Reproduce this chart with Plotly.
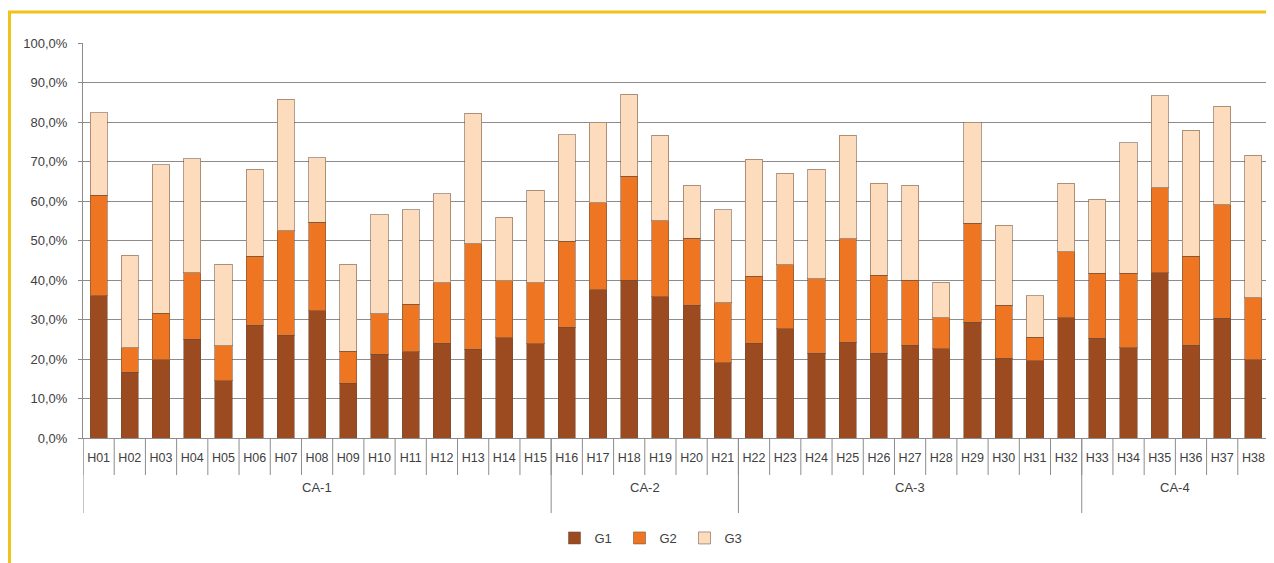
import plotly.graph_objects as go

categories = [f"H{i:02d}" for i in range(1, 39)]
groups = ["CA-1", "CA-2", "CA-3", "CA-4"]
group_sizes = [15, 6, 11, 6]

g1 = [36.0, 16.6, 19.8, 25.0, 14.5, 28.6, 26.0, 32.2, 13.8, 21.2, 21.8, 24.0, 22.5, 25.4, 23.8,
      28.0, 37.5, 40.0, 35.8, 33.6, 19.0,
      24.0, 27.6, 21.4, 24.3, 21.4, 23.5, 22.6, 29.3, 20.2, 19.5, 30.5,
      25.3, 22.8, 41.8, 23.5, 30.3, 19.8]
g2 = [25.5, 6.2, 11.8, 16.8, 8.8, 17.4, 26.5, 22.4, 8.2, 10.3, 12.0, 15.3, 26.7, 14.4, 15.5,
      21.8, 22.0, 26.3, 19.2, 17.0, 15.2,
      17.0, 16.2, 18.9, 26.2, 19.8, 16.4, 7.8, 25.1, 13.4, 6.0, 16.7,
      16.4, 18.9, 21.6, 22.5, 28.7, 15.7]
g3 = [20.8, 23.5, 37.6, 28.9, 20.7, 22.0, 33.2, 16.4, 22.0, 25.0, 24.0, 22.6, 33.0, 16.1, 23.4,
      27.0, 20.5, 20.7, 21.6, 13.4, 23.6,
      29.6, 23.2, 27.7, 26.2, 23.3, 24.1, 9.0, 25.6, 20.2, 10.5, 17.3,
      18.8, 33.0, 23.3, 31.9, 25.0, 36.1]

series = [("G1", g1, "#9C4A1F"), ("G2", g2, "#EE7623"), ("G3", g3, "#FDDBBD")]

# page has an 8px body margin; figure is sized so the plot lands where the reference has it
OFF = 8
W, H = 1274 - OFF, 563 - OFF
L, R, T, B = 83 - OFF, 5, 43 - OFF, 125
ph = H - T - B
pw = W - L - R

def py2paper(py_page):
    return (H - B - (py_page - OFF)) / ph

def px2paper(px_page):
    return (px_page - OFF - L) / pw

fig = go.Figure()
for name, vals, col in series:
    fig.add_trace(go.Bar(
        x=categories, y=vals, name=name,
        marker=dict(color=col, line=dict(color="rgba(110,80,60,0.55)", width=1)),
    ))

text_col = "#404040"
line_col = "#8C8C8C"

shapes = []
annotations = []

# category boundary ticks
for i in range(len(categories) + 1):
    shapes.append(dict(type="line", xref="x", yref="paper", x0=i - 0.5, x1=i - 0.5,
                       y0=0, y1=py2paper(475), line=dict(color=line_col, width=1)))
# group dividers and labels
start = 0
bounds = [0]
for gname, n in zip(groups, group_sizes):
    annotations.append(dict(xref="x", yref="paper", x=start + (n - 1) / 2, y=py2paper(497),
                            text=gname, showarrow=False,
                            font=dict(size=13, color=text_col, family="Liberation Sans, Arial")))
    start += n
    bounds.append(start)
for b in bounds:
    shapes.append(dict(type="line", xref="x", yref="paper", x0=b - 0.5, x1=b - 0.5,
                       y0=0, y1=py2paper(513), line=dict(color=line_col, width=1)))

# yellow frame
shapes.append(dict(type="rect", xref="paper", yref="paper",
                   x0=px2paper(9.5), x1=px2paper(1290),
                   y0=py2paper(580), y1=py2paper(12),
                   line=dict(color="#EFC319", width=3), fillcolor="rgba(0,0,0,0)", layer="below"))

fig.update_layout(
    width=W, height=H,
    margin=dict(l=L, r=R, t=T, b=B),
    barmode="stack",
    bargap=0.45,
    paper_bgcolor="white",
    plot_bgcolor="white",
    separators=", ",
    font=dict(family="Liberation Sans, Arial", size=13, color=text_col),
    showlegend=True,
    legend=dict(orientation="h", x=px2paper(652), xanchor="center",
                y=py2paper(538), yanchor="middle", font=dict(size=13, color=text_col),
                itemwidth=30, traceorder="normal", entrywidth=20),
    shapes=shapes,
    annotations=annotations,
)
fig.update_yaxes(range=[0, 100], dtick=10, tickformat=".1f", ticksuffix="%",
                 showgrid=True, gridcolor=line_col, gridwidth=1,
                 showline=True, linecolor=line_col, ticks="outside", ticklen=4,
                 tickcolor=line_col, zeroline=False, ticklabelstandoff=8,
                 tickfont=dict(size=13, color=text_col))
fig.update_xaxes(type="category", showline=True, linecolor=line_col, ticks="",
                 ticklabelstandoff=8, tickangle=0,
                 tickfont=dict(size=12.5, color=text_col), range=[-0.5, 37.5])

fig.write_html("out.html")
